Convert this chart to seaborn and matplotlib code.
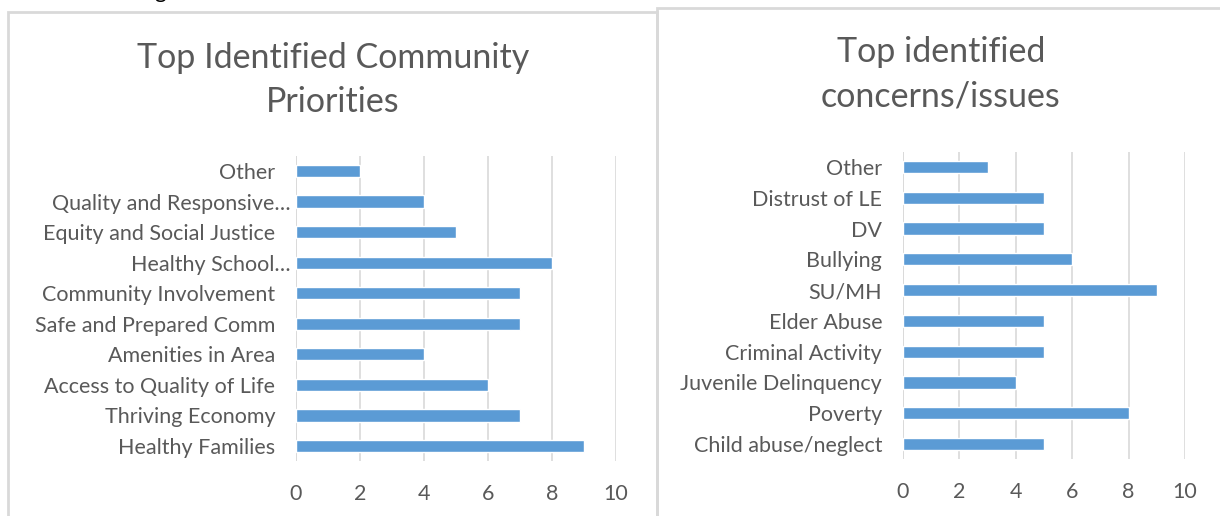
import matplotlib
matplotlib.use('Agg')
import matplotlib.pyplot as plt
import matplotlib.transforms as mtransforms
from matplotlib.patches import Rectangle
import seaborn as sns
import pandas as pd

# data, top to bottom as shown in the charts
priority_labels = ['Other', 'Quality and Responsive\u2026', 'Equity and Social Justice',
                   'Healthy School\u2026', 'Community Involvement', 'Safe and Prepared Comm',
                   'Amenities in Area', 'Access to Quality of Life', 'Thriving Economy',
                   'Healthy Families']
priority_counts = [2, 4, 5, 8, 7, 7, 4, 6, 7, 9]

concern_labels = ['Other', 'Distrust of LE', 'DV', 'Bullying', 'SU/MH', 'Elder Abuse',
                  'Criminal Activity', 'Juvenile Delinquency', 'Poverty', 'Child abuse/neglect']
concern_counts = [3, 5, 5, 6, 9, 5, 5, 4, 8, 5]

x_ticks = [0, 2, 4, 6, 8, 10]

sns.set_style('white')
plt.rcParams['font.family'] = ['Lato', 'DejaVu Sans']

BAR = '#5B9BD5'
TXT = '#595959'
GRID = '#D9D9D9'

W, H = 1220, 516
fig = plt.figure(figsize=(W / 100, H / 100), dpi=100)


def px_axes(x0, x1, y0, y1):
    # pixel box (top-left origin) -> figure axes
    return fig.add_axes([x0 / W, 1 - y1 / H, (x1 - x0) / W, (y1 - y0) / H])


def draw_panel(ax, labels, counts, short_labels=()):
    df = pd.DataFrame({'label': labels, 'count': counts})
    sns.barplot(data=df, x='count', y='label', orient='h', color=BAR,
                width=0.4, saturation=1, ax=ax)
    ax.set_xlim(0, 10)
    ax.set_xticks(x_ticks)
    ax.set_xlabel('')
    ax.set_ylabel('')
    for s in ax.spines.values():
        s.set_visible(False)
    ax.grid(axis='x', color=GRID, lw=1.2)
    ax.grid(axis='y', visible=False)
    ax.set_axisbelow(True)
    ax.axvline(0, color=GRID, lw=1.2, zorder=0)
    ax.tick_params(axis='x', length=0, pad=16, labelsize=15.5, labelcolor=TXT)
    ax.tick_params(axis='y', length=0, pad=15, labelsize=15.5, labelcolor=TXT)
    # truncated labels sit closer to the axis
    off = mtransforms.ScaledTranslation(15 / 100, 0, fig.dpi_scale_trans)
    for t in ax.get_yticklabels():
        if t.get_text() in short_labels:
            t.set_transform(t.get_transform() + off)


ax1 = px_axes(296, 616, 155.7, 461.3)
draw_panel(ax1, priority_labels, priority_counts,
           short_labels=('Quality and Responsive\u2026', 'Healthy School\u2026'))

ax2 = px_axes(903, 1185, 151.6, 459.4)
draw_panel(ax2, concern_labels, concern_counts)

# chart frames
fig.patches.append(Rectangle((8 / W, -0.05), 649 / W, 1.05 - 12 / H,
                             transform=fig.transFigure, fill=False,
                             edgecolor=GRID, lw=2))
fig.patches.append(Rectangle((657 / W, -0.05), 0.5, 1.05 - 8 / H,
                             transform=fig.transFigure, fill=False,
                             edgecolor=GRID, lw=2))

# titles
for txt, x, y in [('Top Identified Community', 333, 58), ('Priorities', 333, 102),
                  ('Top identified', 941, 52), ('concerns/issues', 941, 97)]:
    fig.text(x / W, 1 - y / H, txt, ha='center', va='center',
             fontsize=24.5, color=TXT)

# cut-off text fragment at the very top, as in the source image
fig.text(160 / W, 1 + 2 / H, 'g', ha='center', va='baseline', fontsize=16, color='black')

fig.savefig('out.png', dpi=100)
